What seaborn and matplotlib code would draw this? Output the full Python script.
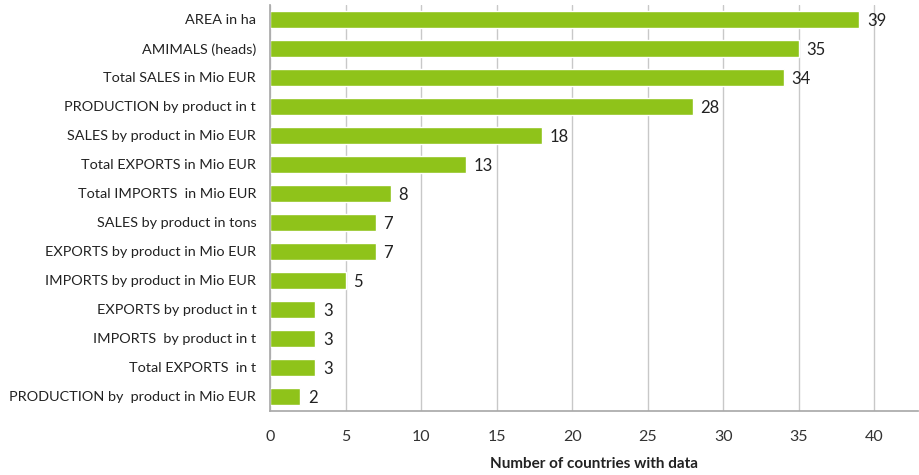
import matplotlib
matplotlib.use("Agg")
import matplotlib.pyplot as plt
import seaborn as sns
import pandas as pd
import numpy as np

categories = [
    "AREA in ha",
    "AMIMALS (heads)",
    "Total SALES in Mio EUR",
    "PRODUCTION by product in t",
    "SALES by product in Mio EUR",
    "Total EXPORTS in Mio EUR",
    "Total IMPORTS  in Mio EUR",
    "SALES by product in tons",
    "EXPORTS by product in Mio EUR",
    "IMPORTS by product in Mio EUR",
    "EXPORTS by product in t",
    "IMPORTS  by product in t",
    "Total EXPORTS  in t",
    "PRODUCTION by  product in Mio EUR",
]
values = [39, 35, 34, 28, 18, 13, 8, 7, 7, 5, 3, 3, 3, 2]
xticks = [0, 5, 10, 15, 20, 25, 30, 35, 40]
xlabel = "Number of countries with data"

sns.set_theme(style="white")
plt.rcParams["font.family"] = ["Lato", "DejaVu Sans"]

df = pd.DataFrame({"cat": categories, "val": values})

fig = plt.figure(figsize=(9.2, 4.75), dpi=100)
ax = fig.add_axes([0.2935, 0.135, 0.7045, 0.855])

ax.set_axisbelow(True)
ax.xaxis.grid(True, color="#c8c8c8", linewidth=1)
ax.yaxis.grid(False)

sns.barplot(data=df, x="val", y="cat", orient="h", color="#8fc31a",
            saturation=1, width=0.6, ax=ax, order=categories)

ax.set_xlim(0, 42.9)
ax.set_ylim(len(categories) - 0.5, -0.5)
ax.set_xticks(xticks)
ax.set_xticklabels([str(t) for t in xticks], fontsize=11.5, color="#333333")
ax.set_yticks(range(len(categories)))
ax.set_yticklabels(categories, fontsize=10.4, color="#222222")
ax.tick_params(axis="y", which="major", length=0, pad=10)
ax.tick_params(axis="x", which="major", length=0, pad=14)
ax.set_yticks(np.arange(-0.5, len(categories) + 0.5, 1), minor=True)
ax.tick_params(axis="y", which="minor", length=5, color="#aaaaaa", width=1)

for s in ["top", "right"]:
    ax.spines[s].set_visible(False)
ax.spines["left"].set_color("#aaaaaa")
ax.spines["bottom"].set_color("#aaaaaa")

ax.set_ylabel("")
ax.set_xlabel(xlabel, fontsize=11, fontweight="bold", color="#222222", labelpad=9)

for i, v in enumerate(values):
    ax.text(v + 0.5, i + 0.05, str(v), va="center", ha="left", fontsize=12, color="#222222")

fig.savefig("out.png", dpi=100)
